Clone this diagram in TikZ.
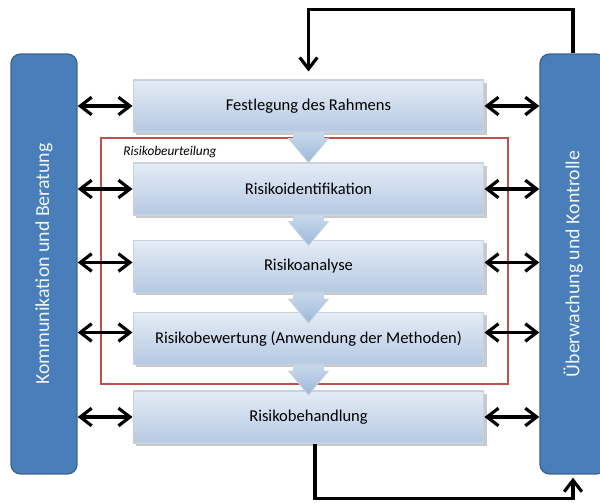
\documentclass[tikz,border=0pt]{standalone}
\usepackage{fontspec}
\setmainfont{Carlito}
\usetikzlibrary{arrows.meta,calc,positioning,shadows}
\definecolor{barfill}{HTML}{4A7EBB}
\definecolor{bardraw}{HTML}{3A6595}
\definecolor{boxtop}{HTML}{E4ECF6}
\definecolor{boxbottom}{HTML}{B5C9E3}
\definecolor{boxdraw}{HTML}{C9D3DF}
\definecolor{flowtop}{HTML}{C8D8EC}
\definecolor{flowbottom}{HTML}{9DB8DA}
\definecolor{frame}{HTML}{C0504D}
\tikzset{
  pics/flow/.style={
    code={%
      \path[draw=boxdraw, line width=.4pt, top color=flowtop, bottom color=flowbottom]
        (-15,0) -- (-15,6) -- (-20,6) -- (0,30) -- (20,6) -- (15,6) -- (15,0) -- cycle;
    }
  },
}

\begin{document}
\begin{tikzpicture}[
    x=0.02cm,y=-0.02cm,
    box/.style={draw=boxdraw, line width=.6pt, top color=boxtop, bottom color=boxbottom,
      minimum width=7.02cm, minimum height=1.04cm, inner sep=0pt,
      font=\fontsize{9.4}{11}\selectfont,
      drop shadow={shadow xshift=1.5pt, shadow yshift=-1.5pt, opacity=.3, fill=black!70}},
    bar/.style={draw=bardraw, line width=.8pt, fill=barfill, rounded corners=5.5pt,
      minimum width=1.32cm, minimum height=8.4cm, inner sep=0pt, text=white!92!barfill,
      font=\fontsize{11.3}{14}\selectfont},
    link/.style={{Straight Barb[length=6.5pt,width=10pt]}-{Straight Barb[length=6.5pt,width=10pt]}, line width=1.8pt},
    loop/.style={-{Straight Barb[length=6.5pt,width=10pt]}, line width=1.8pt},
  ]
  \useasboundingbox (0,0) rectangle (600,503);

  % Rahmen der Risikobeurteilung
  \draw[frame, line width=1pt] (101,138) rectangle (508,384);
  \node[anchor=west, inner sep=0pt, font=\fontsize{7.6}{9}\selectfont\itshape] (beurt) at (123,152) {Risikobeurteilung};

  % Prozessschritte
  \node[box] (fest)  at (308.5,106)   {Festlegung des Rahmens};
  \node[box] (ident) at (308.5,189)   {Risikoidentifikation};
  \node[box] (anal)  at (308.5,266.5) {Risikoanalyse};
  \node[box] (bew)   at (308.5,338.5) {Risikobewertung (Anwendung der Methoden)};
  \node[box] (beh)   at (308.5,417)   {Risikobehandlung};

  \path
    (fest.south)  pic{flow}
    (ident.south) pic{flow}
    (anal.south)  pic{flow}
    (bew.south)   pic{flow}
  ;

  % Seitenbalken
  \node[bar] (komm)  at (44,264)  {\rotatebox{90}{Kommunikation und Beratung}};
  \node[bar] (ueber) at (573,264) {\rotatebox{90}{Überwachung und Kontrolle}};

  \foreach \b/\s in {fest/0, ident/0, anal/4, bew/6, beh/0}{
    \draw[link] ([yshift=\s*0.02cm]komm.east |- \b.west) -- ([yshift=\s*0.02cm]\b.west);
    \draw[link] ([yshift=\s*0.02cm]\b.east) -- ([yshift=\s*0.02cm]ueber.west |- \b.east);
  }

  % Rueckkopplung
  \draw[loop] (ueber.north) -- ++(0,-44) -| ([yshift=0.16cm]fest.north);
  \draw[loop] ([xshift=0.13cm]beh.south) -- ++(0,55) -| ([yshift=-0.06cm]ueber.south);
\end{tikzpicture}
\end{document}
